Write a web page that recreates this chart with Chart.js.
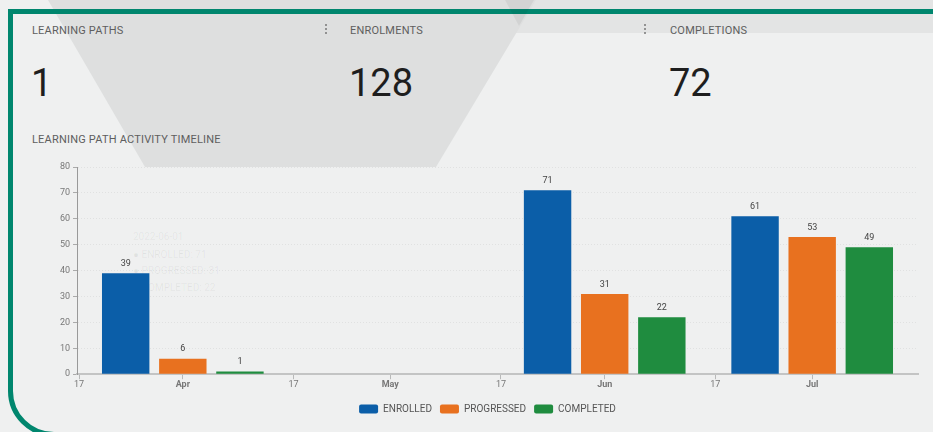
<!DOCTYPE html>
<html>
<head>
<meta charset="utf-8">
<script src="https://cdn.jsdelivr.net/npm/chart.js@4.4.0/dist/chart.umd.min.js"></script>
<style>
  html, body { margin: 0; padding: 0; }
  body { width: 933px; height: 432px; overflow: hidden; position: relative; background: #eff0f0; font-family: Roboto, "Liberation Sans", sans-serif; }
  .shape { position: absolute; left: 0; top: 0; width: 933px; height: 432px; }
  #band { background: #e3e4e4; clip-path: polygon(505px 0, 933px 0, 933px 33px, 505px 33px); }
  #trap { background: #dedfdf; clip-path: polygon(48px 0, 536px 0, 436px 167px, 145px 167px); }
  #vee { background: rgba(0,0,0,0.05); clip-path: polygon(505px 0, 534px 0, 519px 26px); }
  #frame { position: absolute; left: 8px; top: 9px; width: 1000px; height: 428px; border: 5px solid #00866e; border-bottom-left-radius: 46px; box-sizing: border-box; }
  .lbl { position: absolute; font-size: 11px; letter-spacing: 0.2px; color: #5e5e5e; white-space: nowrap; line-height: 1; }
  .big { position: absolute; font-size: 38px; color: #1e1e1e; line-height: 1; top: 64px; }
  .kebab { position: absolute; top: 24px; width: 2px; height: 2px; background: #777; border-radius: 1px; box-shadow: 0 4px #777, 0 8px #777; }
  .ghost { position: absolute; font-size: 10px; color: rgba(0,0,0,0.06); white-space: nowrap; line-height: 1; }
  #chartBox { position: absolute; left: 0; top: 0; width: 933px; height: 432px; }
</style>
</head>
<body>
<div class="shape" id="band"></div>
<div class="shape" id="trap"></div>
<div id="frame"></div>
<div class="shape" id="vee"></div>

<div class="lbl" style="left:32px; top:25px;">LEARNING PATHS</div>
<div class="kebab" style="left:325px;"></div>
<div class="lbl" style="left:350px; top:25px;">ENROLMENTS</div>
<div class="kebab" style="left:644px;"></div>
<div class="lbl" style="left:670px; top:25px;">COMPLETIONS</div>

<div class="big" style="left:31px;">1</div>
<div class="big" style="left:349px;">128</div>
<div class="big" style="left:669px;">72</div>

<div class="lbl" style="left:32px; top:134px;">LEARNING PATH ACTIVITY TIMELINE</div>

<div class="ghost" style="left:133px; top:232px;">2022-06-01</div>
<div class="ghost" style="left:133px; top:250px;">● ENROLLED: 71</div>
<div class="ghost" style="left:133px; top:266px;">● PROGRESSED: 31</div>
<div class="ghost" style="left:133px; top:283px;">● COMPLETED: 22</div>

<div id="chartBox"><canvas id="myChart" width="933" height="432"></canvas></div>

<script>
const tickDates = ['2022-03-17', '2022-04-01', '2022-04-17', '2022-05-01', '2022-05-17', '2022-06-01', '2022-06-17', '2022-07-01'];
const tickLabels = ['17', 'Apr', '17', 'May', '17', 'Jun', '17', 'Jul'];
const periods = ['2022-04-01', '2022-06-01', '2022-07-01'];
const enrolled = [39, 71, 61];
const progressed = [6, 31, 53];
const completed = [1, 22, 49];
const seriesNames = ['ENROLLED', 'PROGRESSED', 'COMPLETED'];
const seriesColors = ['#0b5ea8', '#e8711f', '#1f8c3f'];

const day0 = Date.parse(tickDates[0]);
const toDay = s => (Date.parse(s) - day0) / 864e5;
const points = vals => periods.map((p, i) => ({ x: toDay(p), y: vals[i] }));

// numbers over the bars
const valueLabels = {
  id: 'valueLabels',
  afterDatasetsDraw(chart) {
    const c = chart.ctx;
    c.save();
    c.font = '9px Roboto';
    c.fillStyle = '#444';
    c.textAlign = 'center';
    c.textBaseline = 'bottom';
    chart.data.datasets.forEach((ds, i) => {
      chart.getDatasetMeta(i).data.forEach((bar, j) => {
        c.fillText(ds.data[j].y, bar.x, bar.y - 5);
      });
    });
    c.restore();
  }
};

const ctx = document.getElementById('myChart');

const chart = new Chart(ctx, {
  type: 'bar',
  data: {
    datasets: [enrolled, progressed, completed].map((vals, i) => ({
      label: seriesNames[i],
      data: points(vals),
      backgroundColor: seriesColors[i],
      borderWidth: 0,
      categoryPercentage: 1.77,
      barPercentage: 0.83
    }))
  },
  options: {
    responsive: false,
    animation: false,
    events: [],
    layout: { padding: { left: 57, right: 15, top: 167, bottom: 8 } },
    scales: {
      x: {
        type: 'linear',
        min: -0.3,
        max: 121.3,
        offset: false,
        afterBuildTicks: s => { s.ticks = tickDates.map(d => ({ value: toDay(d) })); },
        afterFit: s => { s.height += 6; },
        ticks: {
          autoSkip: false,
          maxRotation: 0,
          padding: 0,
          color: '#777',
          font: c => ({ family: 'Roboto', size: 9, weight: c.index % 2 ? 'bold' : 'normal' }),
          callback: (v, i) => tickLabels[i]
        },
        grid: { offset: false, drawOnChartArea: false, tickLength: 5, color: '#b8b9b9' },
        border: { color: '#c3c4c4', width: 2 }
      },
      y: {
        min: 0,
        max: 80,
        afterFit: s => { s.width = 20; },
        ticks: { stepSize: 10, padding: 3, color: '#777', font: { family: 'Roboto', size: 9 } },
        grid: { color: '#e0e1e1', tickLength: 4, tickColor: '#aaa' },
        border: { dash: [1, 2], color: '#999' }
      }
    },
    plugins: {
      tooltip: { enabled: false },
      legend: {
        position: 'bottom',
        labels: {
          boxWidth: 19,
          boxHeight: 9,
          padding: 8,
          color: '#555',
          useBorderRadius: true,
          borderRadius: 2,
          font: { family: 'Roboto', size: 10 }
        }
      }
    }
  },
  plugins: [valueLabels]
});
</script>
</body>
</html>
